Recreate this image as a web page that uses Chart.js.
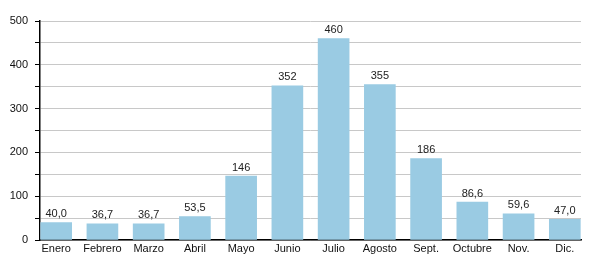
<!DOCTYPE html>
<html>
<head>
<meta charset="utf-8">
<script src="https://cdn.jsdelivr.net/npm/chart.js@4"></script>
<style>
  html, body { margin: 0; padding: 0; background: #fff; }
  #wrap { width: 600px; height: 280px; }
</style>
</head>
<body>
<div id="wrap"><canvas id="chart"></canvas></div>
<script>
// datos mensuales
const months = ["Enero", "Febrero", "Marzo", "Abril", "Mayo", "Junio", "Julio", "Agosto", "Sept.", "Octubre", "Nov.", "Dic."];
const values = [40.0, 36.7, 36.7, 53.5, 146, 352, 460, 355, 186, 86.6, 59.6, 47.0];
const valueLabels = ["40,0", "36,7", "36,7", "53,5", "146", "352", "460", "355", "186", "86,6", "59,6", "47,0"];

const FONT = "'Liberation Sans', Arial, sans-serif";

// etiquetas encima de cada barra
const barLabels = {
  id: "barLabels",
  afterDatasetsDraw(chart) {
    const ctx = chart.ctx;
    const meta = chart.getDatasetMeta(0);
    ctx.save();
    ctx.font = "11px " + FONT;
    ctx.fillStyle = "#222";
    ctx.textAlign = "center";
    ctx.textBaseline = "bottom";
    meta.data.forEach((bar, i) => {
      ctx.fillText(valueLabels[i], bar.x, bar.y - 3);
    });
    ctx.restore();
  }
};

new Chart(document.getElementById("chart"), {
  type: "bar",
  data: {
    datasets: [{
      data: values.map((v, i) => ({ x: i, y: v })),
      backgroundColor: "#9acbe3",
      barThickness: 31
    }]
  },
  options: {
    responsive: true,
    maintainAspectRatio: false,
    animation: false,
    layout: { padding: { top: 21, right: 19, left: 0, bottom: 0 } },
    plugins: { legend: { display: false }, tooltip: { enabled: false } },
    scales: {
      x: {
        type: "linear",
        bounds: "data",
        offset: false,
        min: -0.35,
        max: 11.35,
        afterBuildTicks: s => { s.ticks = months.map((m, i) => ({ value: i })); },
        afterFit: s => { s.height = 40; },
        grid: { display: false, drawTicks: false },
        border: { color: "#000", width: 1.5 },
        ticks: {
          autoSkip: false,
          maxRotation: 0,
          color: "#111",
          font: { family: FONT, size: 11 },
          padding: 2,
          callback: v => months[v] ?? ""
        }
      },
      y: {
        min: 0,
        max: 500,
        afterFit: s => { s.width = 40; },
        border: { color: "#000", width: 1.5 },
        grid: { color: "#c8c8c8", tickLength: 5, tickColor: "#000" },
        ticks: {
          stepSize: 50,
          color: "#111",
          font: { family: FONT, size: 11 },
          padding: 7,
          callback: v => (v % 100 === 0 ? v : "")
        }
      }
    }
  },
  plugins: [barLabels]
});
</script>
</body>
</html>
